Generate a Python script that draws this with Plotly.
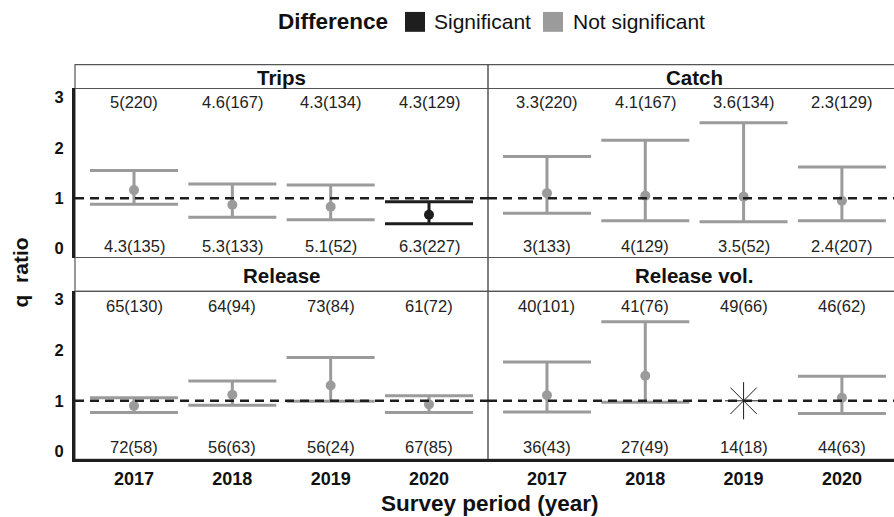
import plotly.graph_objects as go

# ---------------- data ----------------
years = ["2017", "2018", "2019", "2020"]
panels = ["Trips", "Catch", "Release", "Release vol."]

trips_q = [1.16, 0.87, 0.83, 0.67]
trips_lo = [0.88, 0.62, 0.57, 0.49]
trips_hi = [1.55, 1.28, 1.26, 0.93]
trips_sig = [False, False, False, True]
trips_top = ["5(220)", "4.6(167)", "4.3(134)", "4.3(129)"]
trips_bottom = ["4.3(135)", "5.3(133)", "5.1(52)", "6.3(227)"]

catch_q = [1.10, 1.05, 1.03, 0.95]
catch_lo = [0.70, 0.55, 0.53, 0.55]
catch_hi = [1.83, 2.15, 2.50, 1.62]
catch_sig = [False, False, False, False]
catch_top = ["3.3(220)", "4.1(167)", "3.6(134)", "2.3(129)"]
catch_bottom = ["3(133)", "4(129)", "3.5(52)", "2.4(207)"]

release_q = [0.90, 1.12, 1.30, 0.93]
release_lo = [0.77, 0.91, 0.99, 0.77]
release_hi = [1.06, 1.39, 1.85, 1.10]
release_sig = [False, False, False, False]
release_top = ["65(130)", "64(94)", "73(84)", "61(72)"]
release_bottom = ["72(58)", "56(63)", "56(24)", "67(85)"]

relvol_q = [1.11, 1.49, 1.00, 1.06]
relvol_lo = [0.78, 0.97, None, 0.75]
relvol_hi = [1.76, 2.55, None, 1.48]
relvol_sig = [False, False, False, False]
relvol_top = ["40(101)", "41(76)", "49(66)", "46(62)"]
relvol_bottom = ["36(43)", "27(49)", "14(18)", "44(63)"]

yticks = [0, 1, 2, 3]

# ---------------- styling ----------------
W, H = 894, 517
GRAY = "#9b9b9b"
BLACK = "#1e1e1e"
FRAME = "#555555"
FONT = "Liberation Sans, Arial, Helvetica, sans-serif"


def px(x):
    return x / W


def py(y):
    return 1 - y / H


L, M, R = 75, 488, 894
TOP_STRIP = (63, 87)
TOP_PANEL = (87, 257)
BOT_STRIP = (257, 291)
BOT_PANEL = (291, 460)

fig = go.Figure()

data = [
    (trips_q, trips_lo, trips_hi, trips_sig, trips_top, trips_bottom),
    (catch_q, catch_lo, catch_hi, catch_sig, catch_top, catch_bottom),
    (release_q, release_lo, release_hi, release_sig, release_top, release_bottom),
    (relvol_q, relvol_lo, relvol_hi, relvol_sig, relvol_top, relvol_bottom),
]
xpos = list(range(len(years)))

annotations = []
shapes = []
for i, (q, lo, hi, sig, top, bottom) in enumerate(data):
    ax = "" if i == 0 else str(i + 1)
    xr, yr = "x" + ax, "y" + ax
    for j in xpos:
        if lo[j] is None:
            fig.add_trace(go.Scatter(
                x=[j], y=[q[j]], mode="markers", xaxis=xr, yaxis=yr,
                marker=dict(symbol="asterisk-open", size=31, color=BLACK,
                            line=dict(color=BLACK, width=1)),
                showlegend=False, hoverinfo="skip"))
            continue
        col = BLACK if sig[j] else GRAY
        fig.add_trace(go.Scatter(
            x=[j], y=[q[j]], mode="markers", xaxis=xr, yaxis=yr,
            marker=dict(color=col, size=10),
            error_y=dict(type="data", symmetric=False,
                         array=[hi[j] - q[j]], arrayminus=[q[j] - lo[j]],
                         color=col, thickness=3, width=44),
            showlegend=False, hoverinfo="skip"))
    top_y, bot_y = (2.92, 0.05) if i < 2 else (2.86, 0.1)
    for j in xpos:
        annotations.append(dict(x=j, y=top_y, xref=xr, yref=yr, text=top[j],
                                xanchor="center", yanchor="middle",
                                showarrow=False, font=dict(size=16.5, color="#222")))
        annotations.append(dict(x=j, y=bot_y, xref=xr, yref=yr, text=bottom[j],
                                xanchor="center", yanchor="middle",
                                showarrow=False, font=dict(size=16.5, color="#222")))
    # reference line at q ratio = 1
    shapes.append(dict(type="line", xref=xr + " domain", yref=yr, x0=0, x1=1, y0=1, y1=1,
                       line=dict(color=BLACK, width=2.5, dash="9px,6px"), layer="above"))

# frames
for (y0, y1) in (TOP_STRIP, BOT_STRIP):
    shapes.append(dict(type="rect", xref="paper", yref="paper", x0=px(L), x1=px(R + 5),
                       y0=py(y1), y1=py(y0), fillcolor="white",
                       line=dict(color=FRAME, width=1.2), layer="below"))
for (y0, y1) in (TOP_PANEL, BOT_PANEL):
    shapes.append(dict(type="rect", xref="paper", yref="paper", x0=px(L), x1=px(R + 5),
                       y0=py(y1), y1=py(y0), fillcolor="rgba(0,0,0,0)",
                       line=dict(color=FRAME, width=1.2), layer="below"))
shapes.append(dict(type="line", xref="paper", yref="paper", x0=px(M), x1=px(M),
                   y0=py(BOT_PANEL[1]), y1=py(TOP_STRIP[0]),
                   line=dict(color=FRAME, width=1.5), layer="below"))


def label(x, y, text, size, anchor="center", angle=0):
    annotations.append(dict(x=px(x), y=py(y), xref="paper", yref="paper",
                            xanchor=anchor, yanchor="middle", text=text,
                            textangle=angle, showarrow=False,
                            font=dict(size=size, color="#111")))


# strip titles
for i, name in enumerate(panels):
    x0, x1 = (L, M) if i % 2 == 0 else (M, 900)
    ys = TOP_STRIP if i < 2 else BOT_STRIP
    label((x0 + x1) / 2, (ys[0] + ys[1]) / 2 + 1, "<b>%s</b>" % name, 20.5)

# axis titles
label(20, 272, "<b>q  ratio</b>", 21, angle=-90)
label(490, 504, "<b>Survey period (year)</b>", 22.5)

# legend
label(333, 20, "<b>Difference</b>", 22.5)
shapes.append(dict(type="rect", xref="paper", yref="paper", x0=px(405), x1=px(425),
                   y0=py(30), y1=py(10), fillcolor=BLACK, line=dict(width=0)))
label(432, 20, "Significant", 21, anchor="left")
shapes.append(dict(type="rect", xref="paper", yref="paper", x0=px(543), x1=px(563),
                   y0=py(30), y1=py(10), fillcolor=GRAY, line=dict(width=0)))
label(571, 20, "Not significant", 21, anchor="left")

xl = [px(L), px(M)]
xrr = [px(M), 1.0]
ytop = [py(TOP_PANEL[1]), py(TOP_PANEL[0])]
ybot = [py(BOT_PANEL[1]), py(BOT_PANEL[0])]
xrange_l = [-0.6, 3.6]
xrange_r = [-0.6, 3.53]

common_x = dict(showgrid=False, zeroline=False, fixedrange=True,
                tickvals=xpos, ticktext=years)
common_y = dict(showgrid=False, zeroline=False, tickvals=yticks, fixedrange=True)

ytick_font = dict(size=16.5, color="#111", family=FONT, weight="bold")
xtick_font = dict(size=18, color="#111", family=FONT, weight="bold")

fig.update_layout(
    width=W, height=H, margin=dict(l=0, r=0, t=0, b=0),
    paper_bgcolor="white", plot_bgcolor="white",
    font=dict(family=FONT),
    showlegend=False,
    xaxis=dict(domain=xl, anchor="y", range=xrange_l, showticklabels=False, ticks="", **common_x),
    xaxis2=dict(domain=xrr, anchor="y2", range=xrange_r, showticklabels=False, ticks="", **common_x),
    xaxis3=dict(domain=xl, anchor="y3", range=xrange_l, showticklabels=True,
                ticks="outside", ticklen=1, tickcolor="rgba(0,0,0,0)",
                tickfont=xtick_font, showline=True, linecolor=BLACK, linewidth=2.5, **common_x),
    xaxis4=dict(domain=xrr, anchor="y4", range=xrange_r, showticklabels=True,
                ticks="outside", ticklen=1, tickcolor="rgba(0,0,0,0)",
                tickfont=xtick_font, showline=True, linecolor=BLACK, linewidth=2.5, **common_x),
    yaxis=dict(domain=ytop, anchor="x", range=[-0.18, 3.18], showticklabels=True,
               tickfont=ytick_font, showline=True, linecolor=BLACK, linewidth=3,
               ticks="outside", ticklen=5, tickcolor="rgba(0,0,0,0)", **common_y),
    yaxis2=dict(domain=ytop, anchor="x2", range=[-0.18, 3.18], showticklabels=False, **common_y),
    yaxis3=dict(domain=ybot, anchor="x3", range=[-0.15, 3.15], showticklabels=True,
                tickfont=ytick_font, showline=True, linecolor=BLACK, linewidth=3,
                ticks="outside", ticklen=5, tickcolor="rgba(0,0,0,0)", **common_y),
    yaxis4=dict(domain=ybot, anchor="x4", range=[-0.15, 3.15], showticklabels=False, **common_y),
    annotations=annotations,
    shapes=shapes,
)

fig.write_html("out.html")
